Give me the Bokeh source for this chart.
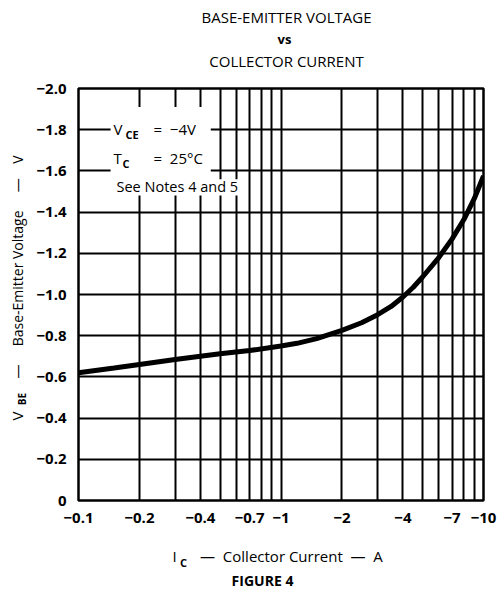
import math
from bokeh.plotting import figure
from bokeh.models import Range1d, FixedTicker, Label, BoxAnnotation, CustomJSTickFormatter
from bokeh.embed import file_html
from bokeh.resources import INLINE

# ---- data ----
collector_current_A = [-0.1, -0.15, -0.2, -0.3, -0.4, -0.5, -0.7, -1.0, -1.2, -1.5, -2.0, -2.5,
                       -3.0, -3.5, -4.0, -4.5, -5.0, -6.0, -7.0, -8.0, -9.0, -10.0]
base_emitter_V = [-0.62, -0.643, -0.66, -0.684, -0.70, -0.712, -0.728, -0.75, -0.763, -0.786, -0.826, -0.863,
                  -0.902, -0.942, -0.988, -1.035, -1.085, -1.178, -1.27, -1.364, -1.465, -1.575]

x_tick_values = [0.1, 0.2, 0.4, 0.7, 1, 2, 4, 7, 10]
x_grid_values = [0.1, 0.2, 0.3, 0.4, 0.5, 0.6, 0.7, 0.8, 0.9, 1, 2, 3, 4, 5, 6, 7, 8, 9, 10]
y_tick_values = [0, -0.2, -0.4, -0.6, -0.8, -1.0, -1.2, -1.4, -1.6, -1.8, -2.0]

NB = "\u00a0"
title_lines = ["BASE-EMITTER VOLTAGE", "vs", "COLLECTOR CURRENT"]
conditions = ["=" + NB * 2 + "\u22124V", "=" + NB * 2 + "25\u00b0C", "See Notes 4 and 5"]
y_label_rest = "\u2014" + NB * 5 + "Base-Emitter Voltage" + NB * 5 + "\u2014" + NB * 4 + "V"
x_label_main = "I" + NB * 6 + "\u2014" + NB * 2 + "Collector Current" + NB * 2 + "\u2014" + NB * 2 + "A"
figure_caption = "FIGURE 4"

FONT = "Open Sans"

# frame geometry in page pixels (used only to place the outside texts)
FL, FR, FT, FB = 78, 483, 88, 500
W, H = 497, 590


def px_x(px):
    return 0.1 * 10 ** (2.0 * (px - FL) / (FR - FL))


def px_y(py):
    return -2.0 * (FB - py) / (FB - FT)


p = figure(width=W, height=H, x_axis_type="log",
           x_range=Range1d(0.1, 10), y_range=Range1d(0, -2.0),
           output_backend="svg", toolbar_location=None,
           min_border_left=FL, min_border_right=W - FR,
           min_border_top=FT, min_border_bottom=H - FB)
p.background_fill_color = "white"
p.border_fill_color = "white"
p.outline_line_color = "black"
p.outline_line_width = 2.5

# grid
p.xgrid.ticker = FixedTicker(ticks=x_grid_values)
p.ygrid.ticker = FixedTicker(ticks=y_tick_values)
for g in (p.xgrid, p.ygrid):
    g.grid_line_color = "black"
    g.grid_line_alpha = 1.0
    g.grid_line_width = 2
    g.minor_grid_line_color = None

# axes
p.xaxis.ticker = FixedTicker(ticks=x_tick_values)
p.xaxis.formatter = CustomJSTickFormatter(code="return '\u2212' + tick;")
p.yaxis.ticker = FixedTicker(ticks=y_tick_values)
p.yaxis.formatter = CustomJSTickFormatter(
    code="return tick == 0 ? '0' : '\u2212' + Math.abs(tick).toFixed(1);")
for ax in (p.xaxis, p.yaxis):
    ax.axis_line_color = None
    ax.major_tick_line_color = None
    ax.minor_tick_line_color = None
    ax.major_tick_out = 0
    ax.major_tick_in = 0
    ax.minor_tick_out = 0
    ax.minor_tick_in = 0
    ax.major_label_text_font = FONT
    ax.major_label_text_font_size = "15px"
    ax.major_label_text_font_style = "bold"
    ax.major_label_text_color = "black"
p.xaxis.major_label_standoff = 12
p.yaxis.major_label_standoff = 12

# curve
p.line(x=[-v for v in collector_current_A], y=base_emitter_V,
       line_color="black", line_width=5)

# white boxes behind the condition texts
p.add_layout(BoxAnnotation(left=0.144, right=0.45, top=-1.91, bottom=-1.555,
                           fill_color="white", fill_alpha=1.0, line_color=None))
p.add_layout(BoxAnnotation(left=0.144, right=0.66, top=-1.56, bottom=-1.48,
                           fill_color="white", fill_alpha=1.0, line_color=None))


def lab_in(x, y, text, size="15px", style="normal"):
    # inside the frame, screen units relative to the frame's bottom-left corner
    p.add_layout(Label(x=x, y=y, x_units="screen", y_units="screen", text=text,
                       text_font=FONT, text_font_size=size, text_font_style=style,
                       text_align="left", text_baseline="middle", text_color="black"))


def lab_out(px, py, text, panel, size="15px", style="normal", align="center", angle=0.0):
    # outside the frame: placed in a side panel, positioned through the plot's own scales
    p.add_layout(Label(x=px_x(px), y=px_y(py), x_units="data", y_units="data", text=text,
                       text_font=FONT, text_font_size=size, text_font_style=style,
                       text_align=align, text_baseline="middle", angle=angle,
                       text_color="black"), panel)


# condition texts (inside the frame)
lab_in(35, 372, "V")
lab_in(47, 366, "CE", size="11px", style="bold")
lab_in(75, 372, conditions[0])
lab_in(35, 343, "T")
lab_in(44, 337, "C", size="11px", style="bold")
lab_in(75, 343, conditions[1])
lab_in(38, 314, conditions[2], size="14.5px")

# titles
lab_out(286, 60, title_lines[2], "above", size="15px")
lab_out(284, 38, title_lines[1], "above", size="13px", style="bold")
lab_out(286, 16, title_lines[0], "above", size="15px")

# y axis label: V (above panel), BE (right panel), rest (left panel)
lab_out(16.5, 415.5, "V", "above", size="15px", angle=math.pi / 2)
lab_out(21.5, 398.5, "BE", "right", size="10px", style="bold", angle=math.pi / 2)
lab_out(16.5, 378, y_label_rest, "left", size="14px", align="left", angle=math.pi / 2)

# x axis label
lab_out(183, 562, "C", "left", size="11px", style="bold")
lab_out(172, 555, x_label_main, "below", size="15px", align="left")
lab_out(262, 580, figure_caption, "below", size="14px", style="bold")

open("out.html", "w").write(file_html(p, INLINE))
